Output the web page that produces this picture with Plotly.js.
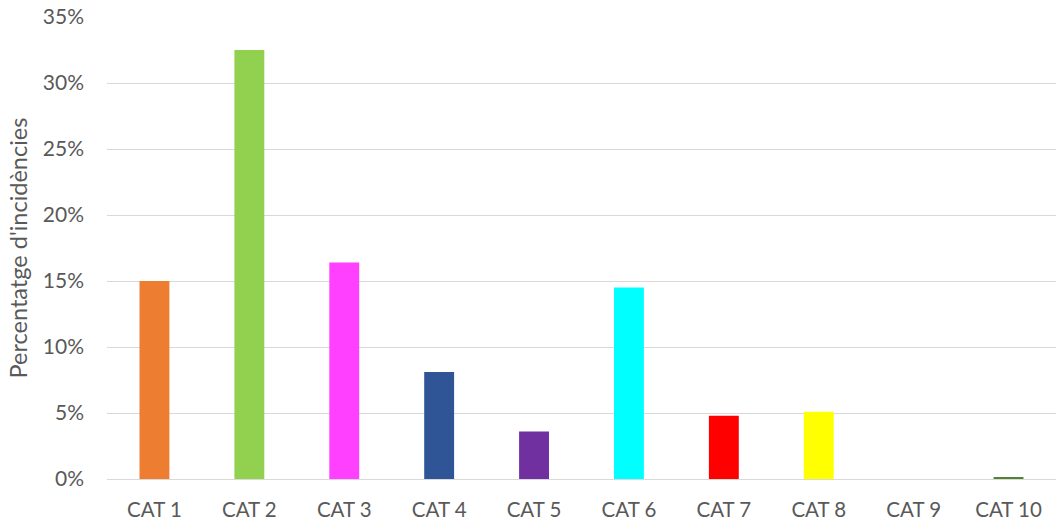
<!DOCTYPE html>
<html>
<head>
<meta charset="utf-8">
<script src="https://cdn.plot.ly/plotly-3.0.1.min.js"></script>
<style>html,body{margin:0;padding:0;background:#fff}#chart{width:1056px;height:523px}</style>
</head>
<body>
<div id="chart"></div>
<script>
var categories = ["CAT 1","CAT 2","CAT 3","CAT 4","CAT 5","CAT 6","CAT 7","CAT 8","CAT 9","CAT 10"];
var values = [0.150, 0.325, 0.164, 0.081, 0.036, 0.145, 0.048, 0.051, 0.0, 0.0015];
var colors = ["#ED7D31","#92D050","#FF40FF","#2F5597","#7030A0","#00FFFF","#FF0000","#FFFF00","#A5A5A5","#548235"];
var tickVals = [0,0.05,0.10,0.15,0.20,0.25,0.30,0.35];
var tickText = ["0%","5%","10%","15%","20%","25%","30%","35%"];

var font = "Lato, 'Open Sans', sans-serif";
Plotly.newPlot("chart", [{
  type: "bar",
  x: categories,
  y: values,
  marker: {color: colors},
  hoverinfo: "none"
}], {
  width: 1056, height: 523,
  margin: {l: 107, r: 0, t: 17, b: 44},
  paper_bgcolor: "#fff", plot_bgcolor: "#fff",
  bargap: 0.685,
  showlegend: false,
  font: {family: font, color: "#595959", size: 20},
  xaxis: {
    tickfont: {family: font, size: 20.5, color: "#595959"},
    showgrid: false, showline: false, ticks: "",
    ticklabelstandoff: 16
  },
  yaxis: {
    range: [0, 0.35],
    tickvals: tickVals, ticktext: tickText,
    tickfont: {family: font, size: 21, color: "#595959"},
    gridcolor: "#D9D9D9", gridwidth: 1,
    zeroline: true, zerolinecolor: "#D9D9D9", zerolinewidth: 1,
    showline: false, ticks: "",
    ticklabelstandoff: 22,
    title: {text: "Percentatge d'incidències", font: {family: font, size: 23.5, color: "#595959"}, standoff: 8}
  }
}, {displayModeBar: false, staticPlot: true});
</script>
</body>
</html>
